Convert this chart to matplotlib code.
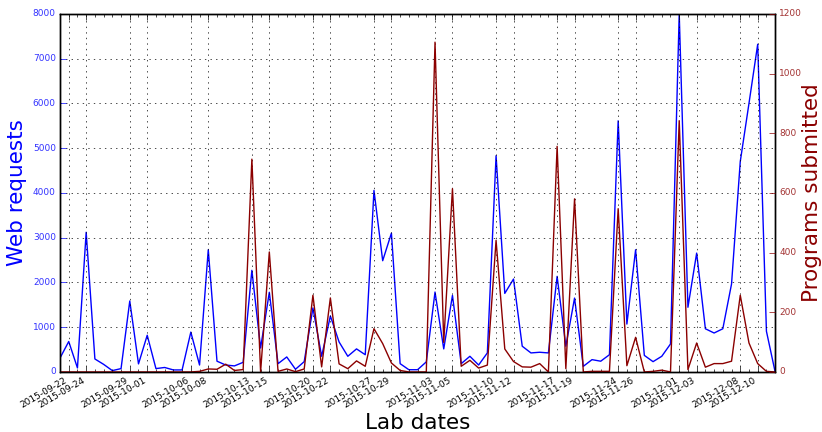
import pandas as pd
import matplotlib
matplotlib.use("Agg")
import matplotlib.pyplot as plt
import matplotlib.dates as mdates

plt.style.use("classic")

dates = pd.date_range("2015-09-21", "2015-12-12", freq="D")

web_requests = [
    310, 680, 90, 3120, 290, 170, 30, 75, 1585, 180,
    820, 75, 100, 45, 45, 890, 155, 2730, 240, 155,
    135, 215, 2270, 535, 1780, 185, 335, 60, 230, 1430,
    350, 1250, 670, 350, 515, 385, 4055, 2485, 3100, 185,
    50, 50, 225, 1785, 515, 1710, 185, 350, 155, 425,
    4830, 1755, 2075, 575, 425, 440, 425, 2135, 575, 1650,
    125, 275, 240, 385, 5610, 1070, 2730, 370, 230, 350,
    625, 8000, 1445, 2655, 965, 870, 965, 1965, 4700, 6000,
    7320, 910, 0,
]

programs = [
    0, 0, 0, 0, 0, 0, 0, 0, 0, 0,
    0, 0, 0, 0, 0, 0, 2, 10, 9, 26,
    5, 8, 713, 0, 402, 2, 10, 1, 10, 257,
    17, 248, 27, 11, 37, 19, 145, 95, 30, 5,
    0, 0, 0, 1105, 99, 614, 19, 39, 13, 23,
    441, 77, 35, 17, 16, 28, 0, 756, 11, 580,
    0, 2, 2, 2, 547, 21, 116, 0, 2, 6,
    0, 842, 8, 97, 16, 28, 28, 36, 257, 97,
    28, 2, 0,
]

lab_dates = pd.to_datetime([
    "2015-09-22", "2015-09-24", "2015-09-29", "2015-10-01", "2015-10-06",
    "2015-10-08", "2015-10-13", "2015-10-15", "2015-10-20", "2015-10-22",
    "2015-10-27", "2015-10-29", "2015-11-03", "2015-11-05", "2015-11-10",
    "2015-11-12", "2015-11-17", "2015-11-19", "2015-11-24", "2015-11-26",
    "2015-12-01", "2015-12-03", "2015-12-08", "2015-12-10",
])

fig, ax1 = plt.subplots(figsize=(8.22, 4.32), dpi=100)
fig.patch.set_facecolor("white")
fig.subplots_adjust(left=0.073, right=0.943, top=0.968, bottom=0.139)

ax1.plot(dates, web_requests, "b-", linewidth=1.0)
ax1.set_ylim(0, 8000)
ax1.set_xlim(dates[0], dates[-1])
ax1.set_ylabel("Web requests", color="b", fontsize=15.5, labelpad=4)
ax1.set_xlabel("Lab dates", fontsize=15.5, labelpad=2)
ax1.tick_params(axis="y", colors="b", labelsize=6.5, pad=3)
for t in ax1.get_yticklabels():
    t.set_color("#3333ff")

ax1.set_xticks(lab_dates)
ax1.xaxis.set_major_formatter(mdates.DateFormatter("%Y-%m-%d"))
ax1.xaxis.set_minor_locator(mdates.DayLocator())
ax1.tick_params(axis="x", labelsize=6.5, pad=3)
plt.setp(ax1.get_xticklabels(), rotation=30, ha="right")
ax1.grid(True)

ax2 = ax1.twinx()
ax2.plot(dates, programs, "-", color="darkred", linewidth=1.0)
ax2.set_ylim(0, 1200)
ax2.set_xlim(dates[0], dates[-1])
ax2.set_ylabel("Programs submitted", color="darkred", fontsize=15.5, labelpad=0)
ax2.tick_params(axis="y", colors="darkred", labelsize=6.5, pad=3)
for t in ax2.get_yticklabels():
    t.set_color("#a33333")
ax2.xaxis.set_minor_locator(mdates.DayLocator())

plt.savefig("out.png", dpi=100, facecolor="white")
